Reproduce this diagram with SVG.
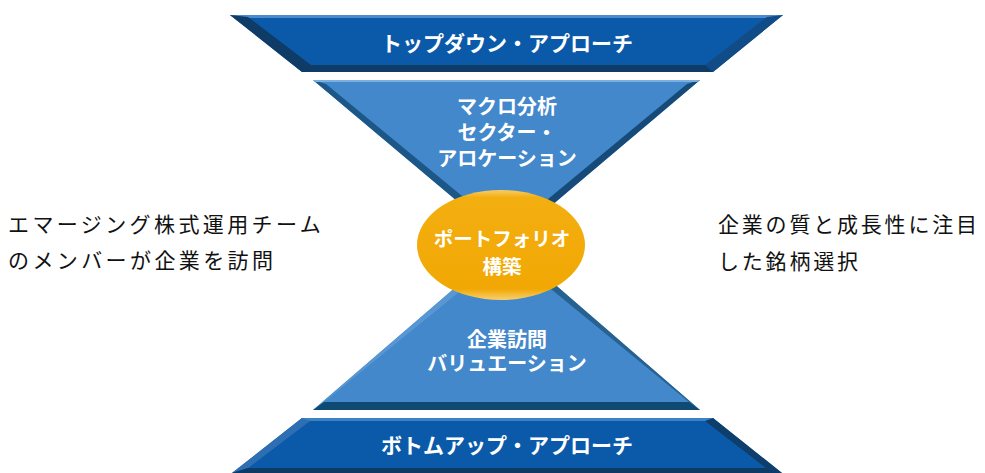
<svg xmlns="http://www.w3.org/2000/svg" width="985" height="473" viewBox="0 0 985 473">
  <defs>
    <style>
      .w { font-family: "Noto Sans CJK JP", "Noto Sans", sans-serif; font-weight: 700; fill: #ffffff; text-anchor: middle; dominant-baseline: central; }
      .band { font-size: 21px; }
      .tri { font-size: 20px; }
      .ell { font-size: 19.5px; }
      .side { font-family: "Noto Sans CJK JP", "Noto Sans", sans-serif; font-weight: 400; font-size: 21px; letter-spacing: 2.8px; fill: #111111; dominant-baseline: central; }
      .wide { letter-spacing: 3.4px; }
      .bandFill { fill: #0B5AA9; }
      .triFill { fill: #4388CA; }
    </style>
    <linearGradient id="ellGrad" x1="0" y1="0" x2="0" y2="1">
      <stop offset="0" stop-color="#F8CC62"/>
      <stop offset="0.07" stop-color="#F3AE10"/>
      <stop offset="0.9" stop-color="#F1A804"/>
      <stop offset="1" stop-color="#F8D070"/>
    </linearGradient>
  </defs>

  <rect x="0" y="0" width="985" height="473" fill="#ffffff"/>

  <g id="top-band">
    <polygon class="bandFill" points="230,15 783,15 713,72 302,72"/>
    <polygon fill="#4A8CCB" points="230,15 783,15 779,18 234,18"/>
    <polygon fill="#0F3C66" points="230,15 248,17 311,65 302,72"/>
    <polygon fill="#0F3C66" points="302,65 713,65 713,72 302,72"/>
    <polygon fill="#124C86" points="783,15 713,72 705,65 767,17"/>
    <text class="w band" x="507" y="42">トップダウン・アプローチ</text>
  </g>

  <g id="top-triangle">
    <polygon class="triFill" points="313,80 700,80 507,243"/>
    <polygon fill="#1C5787" points="313,80 507,243 507,233 326,84"/>
    <polygon fill="#164A78" points="700,80 507,243 507,233 687,84"/>
    <polygon fill="#79B0E0" points="313,80 700,80 697,82 316,82"/>
    <text class="w tri"><tspan x="507" y="105">マクロ分析</tspan><tspan x="507" y="131">セクター・</tspan><tspan x="507" y="157">アロケーション</tspan></text>
  </g>

  <g id="bottom-triangle">
    <polygon class="triFill" points="507,243 700,410 313,410"/>
    <polygon fill="#5897D2" points="507,243 313,410 324,402 507,253"/>
    <polygon fill="#27618F" points="507,243 700,410 689,402 507,253"/>
    <polygon fill="#0F4A73" points="313,410 700,410 689,402 324,402"/>
    <text class="w tri"><tspan x="507" y="338">企業訪問</tspan><tspan x="507" y="362">バリュエーション</tspan></text>
  </g>

  <g id="portfolio">
    <ellipse cx="501" cy="245" rx="84" ry="55" fill="url(#ellGrad)"/>
    <text class="w ell"><tspan x="502" y="237">ポートフォリオ</tspan><tspan x="502" y="265">構築</tspan></text>
  </g>

  <g id="bottom-band">
    <polygon class="bandFill" points="302,418 713,418 782,473 232,473"/>
    <polygon fill="#3E82C6" points="302,418 713,418 716,421 299,421"/>
    <polygon fill="#2E6FB3" points="302,418 232,473 248,468 310,421"/>
    <polygon fill="#0D3E6C" points="713,418 782,473 766,468 705,421"/>
    <polygon fill="#0E3B63" points="248,468 766,468 782,473 232,473"/>
    <text class="w band" x="507" y="444">ボトムアップ・アプローチ</text>
  </g>

  <g id="left-note">
    <text class="side wide"><tspan x="8" y="223">エマージング株式運用チーム</tspan><tspan x="8" y="259">のメンバーが企業を訪問</tspan></text>
  </g>

  <g id="right-note">
    <text class="side"><tspan x="718" y="223">企業の質と成長性に注目</tspan><tspan x="718" y="260">した銘柄選択</tspan></text>
  </g>

  <g id="connectors"></g>
</svg>
